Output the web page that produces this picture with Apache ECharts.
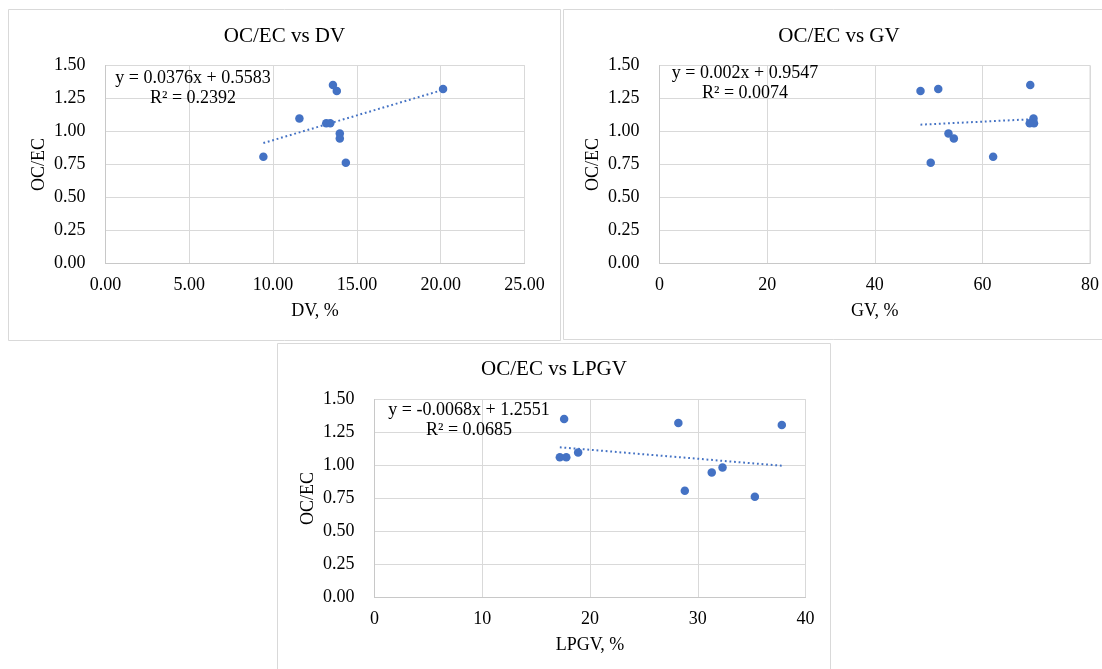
<!DOCTYPE html>
<html>
<head>
<meta charset="utf-8">
<script src="https://cdn.jsdelivr.net/npm/echarts@6/dist/echarts.min.js"></script>
<style>
html,body{margin:0;padding:0;background:#fff;}
#chart{width:1102px;height:669px;}
</style>
</head>
<body>
<div id="chart"></div>
<script>
// ---- data (one observation per index) ----
const ocec = [0.809, 1.098, 1.063, 1.063, 1.352, 1.307, 0.985, 0.947, 0.763, 1.322];
const dv   = [9.42, 11.57, 13.17, 13.41, 13.57, 13.80, 13.98, 13.98, 14.34, 20.14];
const gv   = [62.0, 69.5, 69.6, 68.8, 68.9, 48.5, 53.7, 54.7, 50.4, 51.8];
const lpgv = [28.8, 18.9, 17.2, 17.8, 17.6, 37.8, 32.3, 31.3, 35.3, 28.2];

const titles = ['OC/EC vs DV', 'OC/EC vs GV', 'OC/EC vs LPGV'];
const xNames = ['DV, %', 'GV, %', 'LPGV, %'];
const yName = 'OC/EC';
const slopes = [0.0376, 0.002, -0.0068];
const intercepts = [0.5583, 0.9547, 1.2551];
const eqLines = [
  ['y = 0.0376x + 0.5583', 'R² = 0.2392'],
  ['y = 0.002x + 0.9547', 'R² = 0.0074'],
  ['y = -0.0068x + 1.2551', 'R² = 0.0685']
];
const xMax = [25, 80, 40];
const xStep = [5, 20, 10];
const xDecimals = [2, 0, 0];
const yTicks = [0, 0.25, 0.5, 0.75, 1.0, 1.25, 1.5];

// ---- layout ----
const FONT = "'Liberation Serif', 'Times New Roman', serif";
const blue = '#4472c4';
const gridCol = '#d9d9d9';
const xs = [dv, gv, lpgv];
const grids = [
  {left: 105.5, top: 65.5, width: 419, height: 198},
  {left: 659.5, top: 65.5, width: 431, height: 198},
  {left: 374.5, top: 399.5, width: 431, height: 198}
];
const panels = [
  {x: 8.5, y: 9.5, w: 552, h: 331, tx: 284.5, ty: 36},
  {x: 563.5, y: 9.5, w: 560, h: 330, tx: 839, ty: 36},
  {x: 277.5, y: 343.5, w: 553, h: 340, tx: 554, ty: 369}
];
const eqPos = [
  {cx: 193, cy: 78},
  {cx: 745, cy: 73},
  {cx: 469, cy: 410}
];

const option = {
  animation: false,
  backgroundColor: '#fff',
  textStyle: {fontFamily: FONT},
  grid: grids.map(g => Object.assign({show: true, borderColor: gridCol, borderWidth: 1, backgroundColor: 'transparent'}, g)),
  xAxis: grids.map((g, i) => ({
    type: 'value', gridIndex: i, min: 0, max: xMax[i], interval: xStep[i],
    name: xNames[i], nameLocation: 'middle', nameGap: 39,
    nameTextStyle: {fontFamily: FONT, fontSize: 18, color: '#000'},
    axisLine: {show: true, onZero: false, lineStyle: {color: '#c8c8c8', width: 1}},
    axisTick: {show: false},
    splitLine: {show: true, lineStyle: {color: gridCol, width: 1}},
    axisLabel: {fontFamily: FONT, fontSize: 18, color: '#000', margin: 13,
      formatter: v => v.toFixed(xDecimals[i])}
  })),
  yAxis: grids.map((g, i) => ({
    type: 'value', gridIndex: i, min: yTicks[0], max: yTicks[yTicks.length - 1], interval: 0.25,
    name: yName, nameLocation: 'middle', nameGap: 57,
    nameTextStyle: {fontFamily: FONT, fontSize: 18, color: '#000'},
    axisLine: {show: true, onZero: false, lineStyle: {color: '#c8c8c8', width: 1}},
    axisTick: {show: false},
    splitLine: {show: true, lineStyle: {color: gridCol, width: 1}},
    axisLabel: {fontFamily: FONT, fontSize: 18, color: '#000', margin: 20,
      formatter: v => v.toFixed(2)}
  })),
  series: [],
  graphic: []
};

xs.forEach((xv, i) => {
  const pts = xv.map((x, k) => [x, ocec[k]]);
  const lo = Math.min(...xv), hi = Math.max(...xv);
  option.series.push({
    type: 'line', xAxisIndex: i, yAxisIndex: i, symbol: 'none', silent: true, z: 2,
    data: [[lo, slopes[i] * lo + intercepts[i]], [hi, slopes[i] * hi + intercepts[i]]],
    lineStyle: {color: blue, width: 2, type: [1.8, 2.8], cap: 'butt'}
  });
  option.series.push({
    type: 'scatter', xAxisIndex: i, yAxisIndex: i, symbol: 'circle', symbolSize: 8.5, z: 3,
    itemStyle: {color: blue, opacity: 1},
    data: pts
  });
});

panels.forEach((p, i) => {
  option.graphic.push({
    type: 'rect', z: -10, silent: true,
    shape: {x: p.x, y: p.y, width: p.w, height: p.h},
    style: {fill: '#fff', stroke: gridCol, lineWidth: 1}
  });
  option.graphic.push({
    type: 'text', z: 10, silent: true, x: p.tx, y: p.ty,
    style: {text: titles[i], font: '21px ' + FONT, fill: '#000', align: 'center', verticalAlign: 'middle'}
  });
  option.graphic.push({
    type: 'text', z: 10, silent: true, x: eqPos[i].cx, y: eqPos[i].cy - 10,
    style: {text: eqLines[i].join('\n'), font: '18px ' + FONT, fill: '#000', align: 'center',
      verticalAlign: 'top', lineHeight: 20}
  });
});

const chart = echarts.init(document.getElementById('chart'), null, {renderer: 'canvas'});
chart.setOption(option);
</script>
</body>
</html>
